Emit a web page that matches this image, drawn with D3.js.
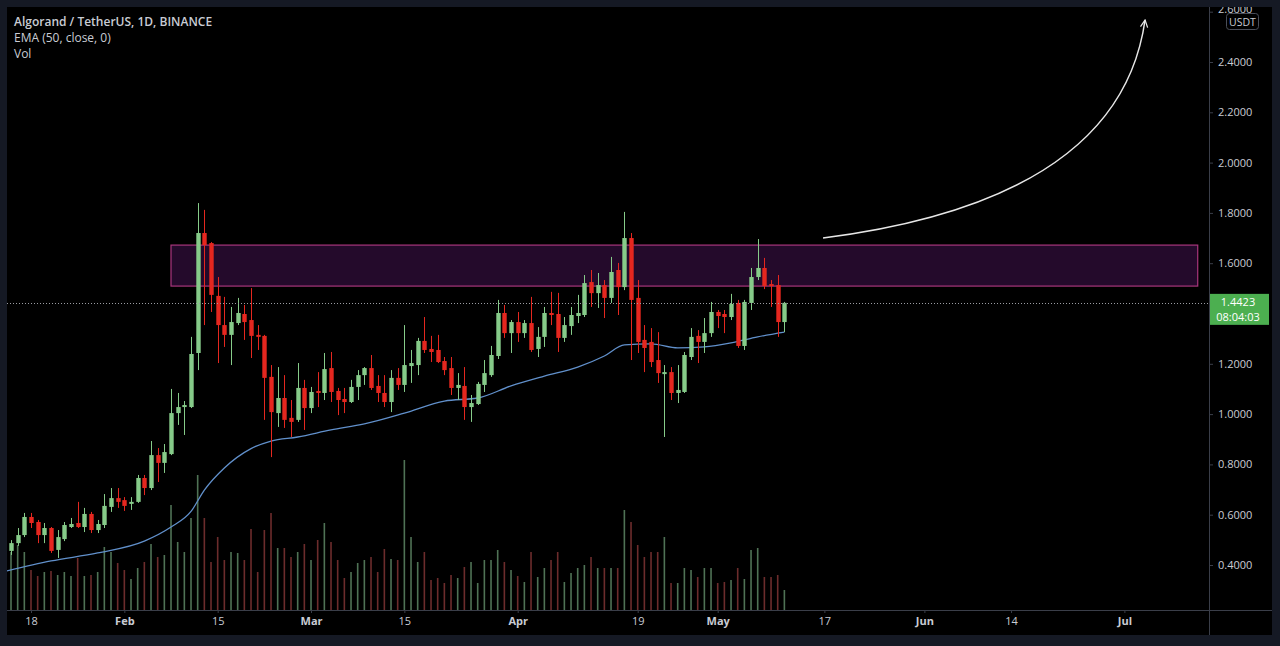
<!DOCTYPE html>
<html>
<head>
<meta charset="utf-8">
<script src="https://cdnjs.cloudflare.com/ajax/libs/d3/7.8.5/d3.min.js"></script>
<style>
	html, body { margin: 0; padding: 0; background: #151924; overflow: hidden; }
	#chart-container { width: 1280px; height: 646px; }
	text { font-family: "Open Sans", "Noto Sans", sans-serif; }
</style>
</head>
<body>
<div id="chart-container"></div>
<script>
// ALGO/USDT daily candles, 2021-01-15 .. 2021-05-11
var startDate = "2021-01-15";
var opens = [0.456, 0.487, 0.519, 0.591, 0.571, 0.519, 0.547, 0.460, 0.503, 0.551,
	0.567, 0.551, 0.603, 0.539, 0.559, 0.631, 0.666, 0.658, 0.643, 0.651,
	0.746, 0.706, 0.837, 0.806, 0.841, 1.004, 1.028, 1.028, 1.243, 1.720,
	1.680, 1.470, 1.354, 1.315, 1.362, 1.398, 1.374, 1.315, 1.311, 1.148,
	1.004, 1.064, 0.985, 0.977, 1.104, 1.024, 1.092, 1.084, 1.183, 1.092,
	1.060, 1.048, 1.108, 1.155, 1.183, 1.112, 1.084, 1.048, 1.144, 1.116,
	1.191, 1.195, 1.291, 1.259, 1.255, 1.211, 1.183, 1.104, 1.112, 1.028,
	1.040, 1.116, 1.155, 1.231, 1.402, 1.322, 1.366, 1.322, 1.362, 1.259,
	1.307, 1.402, 1.398, 1.303, 1.350, 1.390, 1.394, 1.525, 1.481, 1.513,
	1.462, 1.573, 1.505, 1.700, 1.462, 1.295, 1.287, 1.215, 1.159, 1.167,
	1.084, 1.088, 1.227, 1.311, 1.287, 1.322, 1.406, 1.398, 1.386, 1.442,
	1.271, 1.442, 1.545, 1.581, 1.517, 1.513, 1.366];
var highs = [0.499, 0.547, 0.607, 0.607, 0.579, 0.567, 0.551, 0.539, 0.571, 0.587,
	0.651, 0.627, 0.611, 0.579, 0.682, 0.706, 0.706, 0.670, 0.670, 0.758,
	0.758, 0.893, 0.865, 0.881, 1.100, 1.084, 1.052, 1.307, 1.839, 1.812,
	1.684, 1.545, 1.466, 1.426, 1.462, 1.434, 1.501, 1.354, 1.315, 1.195,
	1.187, 1.155, 1.056, 1.203, 1.136, 1.108, 1.167, 1.243, 1.247, 1.104,
	1.104, 1.136, 1.175, 1.187, 1.235, 1.155, 1.155, 1.175, 1.183, 1.354,
	1.255, 1.303, 1.386, 1.311, 1.315, 1.227, 1.227, 1.163, 1.187, 1.076,
	1.128, 1.215, 1.271, 1.454, 1.434, 1.374, 1.406, 1.374, 1.466, 1.346,
	1.426, 1.486, 1.482, 1.386, 1.426, 1.474, 1.553, 1.573, 1.561, 1.533,
	1.625, 1.601, 1.804, 1.720, 1.533, 1.354, 1.342, 1.326, 1.195, 1.187,
	1.195, 1.247, 1.342, 1.334, 1.382, 1.446, 1.414, 1.414, 1.478, 1.454,
	1.454, 1.581, 1.696, 1.621, 1.533, 1.553, 1.446];
var lows = [0.440, 0.476, 0.511, 0.547, 0.487, 0.487, 0.448, 0.428, 0.495, 0.547,
	0.547, 0.531, 0.527, 0.527, 0.547, 0.611, 0.627, 0.615, 0.619, 0.647,
	0.678, 0.698, 0.730, 0.766, 0.837, 0.957, 0.917, 1.024, 1.175, 1.354,
	1.406, 1.203, 1.267, 1.195, 1.354, 1.295, 1.223, 1.255, 0.977, 0.829,
	0.949, 0.945, 0.909, 0.969, 0.937, 1.004, 1.028, 1.056, 1.048, 0.996,
	1.004, 1.044, 1.056, 1.116, 1.096, 1.048, 1.028, 1.008, 1.096, 1.088,
	1.124, 1.155, 1.243, 1.207, 1.203, 1.155, 1.076, 1.056, 0.977, 0.969,
	1.036, 1.088, 1.148, 1.219, 1.303, 1.243, 1.287, 1.303, 1.247, 1.227,
	1.267, 1.354, 1.247, 1.287, 1.315, 1.362, 1.386, 1.426, 1.422, 1.382,
	1.442, 1.394, 1.493, 1.215, 1.243, 1.167, 1.187, 1.124, 0.909, 1.056,
	1.044, 1.084, 1.215, 1.203, 1.243, 1.307, 1.342, 1.322, 1.374, 1.263,
	1.255, 1.414, 1.533, 1.497, 1.426, 1.307, 1.326];
var closes = [0.487, 0.519, 0.591, 0.567, 0.519, 0.547, 0.456, 0.511, 0.559, 0.563,
	0.551, 0.603, 0.539, 0.563, 0.635, 0.666, 0.651, 0.635, 0.651, 0.746,
	0.706, 0.837, 0.806, 0.849, 1.004, 1.028, 1.036, 1.239, 1.720, 1.672,
	1.474, 1.354, 1.315, 1.366, 1.402, 1.366, 1.311, 1.307, 1.144, 1.008,
	1.064, 0.977, 0.969, 1.104, 1.024, 1.088, 1.084, 1.179, 1.088, 1.056,
	1.048, 1.108, 1.155, 1.183, 1.104, 1.084, 1.048, 1.144, 1.116, 1.195,
	1.203, 1.291, 1.255, 1.247, 1.207, 1.175, 1.104, 1.116, 1.028, 1.044,
	1.120, 1.163, 1.235, 1.402, 1.322, 1.366, 1.322, 1.362, 1.255, 1.307,
	1.402, 1.394, 1.303, 1.354, 1.394, 1.402, 1.521, 1.481, 1.513, 1.462,
	1.565, 1.505, 1.700, 1.454, 1.287, 1.263, 1.207, 1.163, 1.167, 1.084,
	1.096, 1.235, 1.307, 1.287, 1.322, 1.406, 1.390, 1.386, 1.438, 1.271,
	1.446, 1.545, 1.581, 1.509, 1.509, 1.366, 1.4423];
// volume, millions ALGO
var volumes = [58, 65, 58, 40, 34, 38, 39, 35, 38, 34,
	52, 34, 35, 38, 63, 58, 47, 40, 31, 42,
	48, 66, 53, 55, 105, 68, 58, 92, 135, 92,
	48, 73, 50, 58, 57, 50, 81, 38, 80, 97,
	62, 62, 53, 58, 66, 50, 70, 87, 68, 50,
	32, 38, 47, 50, 53, 38, 61, 51, 50, 150,
	73, 48, 58, 30, 32, 27, 35, 32, 43, 48,
	27, 50, 50, 60, 48, 40, 34, 28, 58, 33,
	42, 50, 58, 28, 37, 42, 45, 53, 42, 42,
	42, 42, 100, 88, 65, 53, 58, 58, 73, 27,
	27, 42, 40, 33, 42, 42, 27, 28, 30, 42,
	31, 60, 62, 33, 33, 35, 20];

// EMA(50) line, sampled every few days (day offset from startDate, value)
var emaDays = [-1, 6, 13, 20, 24, 27, 29, 32, 36, 39, 43, 48, 53, 59, 65, 70, 75, 80, 85, 89, 92, 96, 100, 104, 108, 112, 116];
var emaValues = [0.374, 0.416, 0.448, 0.495, 0.551, 0.613, 0.698, 0.786, 0.863, 0.893, 0.909, 0.937, 0.961, 1.004, 1.052, 1.064,
	1.112, 1.151, 1.187, 1.231, 1.275, 1.279, 1.263, 1.267, 1.283, 1.307, 1.326];

// 1.4000 sits under the last-price tag, so it is not labelled
var priceTicks = [0.4, 0.6, 0.8, 1.0, 1.2, 1.6, 1.8, 2.0, 2.2, 2.4, 2.6];
var timeTicks = ["2021-01-18", "2021-02-01", "2021-02-15", "2021-03-01", "2021-03-15", "2021-04-01",
	"2021-04-19", "2021-05-01", "2021-05-17", "2021-06-01", "2021-06-14", "2021-07-01"];
var timeLabels = ["18", "Feb", "15", "Mar", "15", "Apr", "19", "May", "17", "Jun", "14", "Jul"];

// resistance zone and the projected arrow
var zoneDates = ["2021-02-08", "2021-07-12"];
var zonePrices = [1.509, 1.672];
var arrowDays = [121.8, 166.3, 170.1];
var arrowPrices = [1.70, 1.851, 2.567];

var lastPrice = 1.4423;
var countdown = "08:04:03";

var Drawer = function (options) {
	options = options || {};
	this.contID = "chart-container";
	this.width = options.width || 1280;
	this.height = options.height || 646;
	this.pane = { left: 7, top: 7, right: 1209, bottom: 610, outerRight: 1272, outerBottom: 635 };
	this.colors = {
		up: "#86cb89", down: "#e5271f",
		volUp: "#4f7255", volDown: "#6c2c2c",
		ema: "#6190cb", text: "#c9ccd4", grid: "#3a3e49"
	};

	this.init = function () {
		var that = this;
		var t0 = d3.utcParse("%Y-%m-%d")(startDate);
		this.dayToDate = function (d) { return new Date(t0.getTime() + d * 864e5); };
		this.dates = closes.map(function (c, i) { return d3.utcDay.offset(t0, i); });

		// 1 day = 6.667px, Jan 15 candle centred at x=11
		this.x = d3.scaleUtc()
			.domain([t0, d3.utcParse("%Y-%m-%d")("2021-07-01")])
			.range([11, 11 + 167 * 6.667]);
		this.y = d3.scaleLinear().domain([0.4, 2.4]).range([565, 62]);
		this.yVol = d3.scaleLinear().domain([0, 160]).range([that.pane.bottom, that.pane.bottom - 160]);

		this.svg = d3.select("#" + this.contID).append("svg")
			.attr("width", this.width)
			.attr("height", this.height);

		var defs = this.svg.append("defs");
		defs.append("clipPath").attr("id", "pane-clip")
			.append("rect")
			.attr("x", this.pane.left).attr("y", this.pane.top)
			.attr("width", this.pane.right - this.pane.left)
			.attr("height", this.pane.bottom - this.pane.top);
		defs.append("clipPath").attr("id", "outer-clip")
			.append("rect")
			.attr("x", this.pane.left).attr("y", this.pane.top)
			.attr("width", this.pane.outerRight - this.pane.left)
			.attr("height", this.pane.outerBottom - this.pane.top);
		defs.append("marker").attr("id", "arrow-head")
			.attr("viewBox", "0 0 10 10")
			.attr("refX", 9).attr("refY", 5)
			.attr("markerWidth", 9).attr("markerHeight", 9)
			.attr("markerUnits", "userSpaceOnUse")
			.attr("orient", "auto")
			.append("path")
			.attr("d", "M1,1 L9,5 L1,9")
			.attr("fill", "none")
			.attr("stroke", "#e6e6e6")
			.attr("stroke-width", 1.4);

		// black chart pane inside the dark frame
		this.svg.append("rect")
			.attr("x", this.pane.left).attr("y", this.pane.top)
			.attr("width", this.pane.outerRight - this.pane.left)
			.attr("height", this.pane.outerBottom - this.pane.top)
			.attr("fill", "#000");
	}

	this.draw = function () {
		var that = this;
		var x = this.x, y = this.y;
		var g = this.svg.append("g").attr("clip-path", "url(#pane-clip)");

		// Volume
		g.append("g").selectAll("rect")
			.data(this.dates)
			.enter().append("rect")
			.attr("x", function (d) { return x(d) - 0.8; })
			.attr("width", 1.6)
			.attr("y", function (d, i) { return that.yVol(volumes[i]); })
			.attr("height", function (d, i) { return that.yVol(0) - that.yVol(volumes[i]); })
			.attr("fill", function (d, i) { return closes[i] >= opens[i] ? that.colors.volUp : that.colors.volDown; });

		// Resistance zone
		g.append("rect")
			.attr("x", x(d3.utcParse("%Y-%m-%d")(zoneDates[0])))
			.attr("y", y(zonePrices[1]))
			.attr("width", x(d3.utcParse("%Y-%m-%d")(zoneDates[1])) - x(d3.utcParse("%Y-%m-%d")(zoneDates[0])))
			.attr("height", y(zonePrices[0]) - y(zonePrices[1]))
			.attr("fill", "#240a2b")
			.attr("stroke", "#a8367c")
			.attr("stroke-width", 1.2);

		// EMA 50
		var line = d3.line()
			.x(function (d, i) { return x(that.dayToDate(emaDays[i])); })
			.y(function (d) { return y(d); })
			.curve(d3.curveMonotoneX);
		g.append("path")
			.attr("d", line(emaValues))
			.attr("fill", "none")
			.attr("stroke", this.colors.ema)
			.attr("stroke-width", 1.3);

		// Candles
		var candles = g.append("g").selectAll("g")
			.data(this.dates)
			.enter().append("g")
			.attr("fill", function (d, i) { return closes[i] >= opens[i] ? that.colors.up : that.colors.down; })
			.attr("stroke", function (d, i) { return closes[i] >= opens[i] ? that.colors.up : that.colors.down; });
		candles.append("line")
			.attr("x1", function (d) { return Math.round(x(d)) + 0.5; })
			.attr("x2", function (d) { return Math.round(x(d)) + 0.5; })
			.attr("y1", function (d, i) { return y(highs[i]); })
			.attr("y2", function (d, i) { return y(lows[i]); })
			.attr("stroke-width", 1);
		candles.append("rect")
			.attr("x", function (d) { return Math.round(x(d)) + 0.5 - 2.2; })
			.attr("width", 4.4)
			.attr("y", function (d, i) { return y(Math.max(opens[i], closes[i])); })
			.attr("height", function (d, i) { return Math.max(1, Math.abs(y(opens[i]) - y(closes[i]))); })
			.attr("stroke", "none");

		// Last price dotted line
		g.append("line")
			.attr("x1", this.pane.left).attr("x2", this.pane.right)
			.attr("y1", Math.round(y(lastPrice)) + 0.5).attr("y2", Math.round(y(lastPrice)) + 0.5)
			.attr("stroke", "#9a9ca3")
			.attr("stroke-dasharray", "1,2");

		// Projection arrow
		var p = d3.path();
		p.moveTo(x(this.dayToDate(arrowDays[0])), y(arrowPrices[0]));
		p.quadraticCurveTo(x(this.dayToDate(arrowDays[1])), y(arrowPrices[1]),
			x(this.dayToDate(arrowDays[2])), y(arrowPrices[2]));
		g.append("path")
			.attr("d", p.toString())
			.attr("fill", "none")
			.attr("stroke", "#e6e6e6")
			.attr("stroke-width", 1.5)
			.attr("marker-end", "url(#arrow-head)");

		this.drawAxes();
		this.drawLegend();
	}

	this.drawAxes = function () {
		var that = this;
		var outer = this.svg.append("g").attr("clip-path", "url(#outer-clip)");

		// separators
		outer.append("line")
			.attr("x1", this.pane.right + 0.5).attr("x2", this.pane.right + 0.5)
			.attr("y1", this.pane.top).attr("y2", this.pane.outerBottom)
			.attr("stroke", this.colors.grid);
		outer.append("line")
			.attr("x1", this.pane.left).attr("x2", this.pane.outerRight)
			.attr("y1", this.pane.bottom + 0.5).attr("y2", this.pane.bottom + 0.5)
			.attr("stroke", this.colors.grid);

		var yAxis = outer.append("g")
			.attr("transform", "translate(" + this.pane.right + ",0)")
			.call(d3.axisRight(this.y).tickValues(priceTicks).tickFormat(d3.format(".4f")).tickSize(4).tickPadding(5));
		yAxis.select(".domain").remove();
		yAxis.selectAll("line").attr("stroke", this.colors.grid);
		yAxis.selectAll("text").attr("fill", this.colors.text).attr("font-size", "11px");
		// top label is half hidden under the pane edge, as in the screenshot
		yAxis.selectAll("text").filter(function (d) { return d > 2.5; }).attr("dy", "0.05em");

		var parse = d3.utcParse("%Y-%m-%d");
		var xAxis = outer.append("g")
			.attr("transform", "translate(0," + this.pane.bottom + ")")
			.call(d3.axisBottom(this.x)
				.tickValues(timeTicks.map(parse))
				.tickFormat(function (d, i) { return timeLabels[i]; })
				.tickSize(3).tickPadding(4));
		xAxis.select(".domain").remove();
		xAxis.selectAll("line").attr("stroke", this.colors.grid);
		xAxis.selectAll("text")
			.attr("fill", this.colors.text)
			.attr("font-size", "11px")
			.attr("font-weight", function (d, i) { return isNaN(+timeLabels[i]) ? 700 : 400; });

		// currency badge
		outer.append("rect")
			.attr("x", 1226.5).attr("y", 13.5).attr("width", 32).attr("height", 16).attr("rx", 3)
			.attr("fill", "#000").attr("stroke", "#4a4e59");
		outer.append("text")
			.attr("x", 1242.5).attr("y", 25.5)
			.attr("text-anchor", "middle")
			.attr("font-size", "10.5px")
			.attr("fill", this.colors.text)
			.text("USDT");

		// last price tag
		var yl = this.y(lastPrice);
		outer.append("rect")
			.attr("x", this.pane.right + 1).attr("y", yl - 9)
			.attr("width", 59).attr("height", 31)
			.attr("fill", "#4caf50");
		outer.append("text")
			.attr("x", 1238).attr("y", yl + 3.5)
			.attr("text-anchor", "middle").attr("font-size", "11px").attr("fill", "#fff")
			.text(d3.format(".4f")(lastPrice));
		outer.append("text")
			.attr("x", 1238).attr("y", yl + 18)
			.attr("text-anchor", "middle").attr("font-size", "11px").attr("fill", "#fff")
			.text(countdown);
	}

	this.drawLegend = function () {
		var lines = ["Algorand / TetherUS, 1D, BINANCE", "EMA (50, close, 0)", "Vol"];
		this.svg.append("g").selectAll("text")
			.data(lines)
			.enter().append("text")
			.attr("x", 14)
			.attr("y", function (d, i) { return 26 + i * 16; })
			.attr("font-size", "12px")
			.attr("font-weight", function (d, i) { return i == 0 ? 600 : 400; })
			.attr("fill", this.colors.text)
			.text(function (d) { return d; });
	}
}

var drawer = new Drawer({ width: 1280, height: 646 });
drawer.init();
drawer.draw();
</script>
</body>
</html>
